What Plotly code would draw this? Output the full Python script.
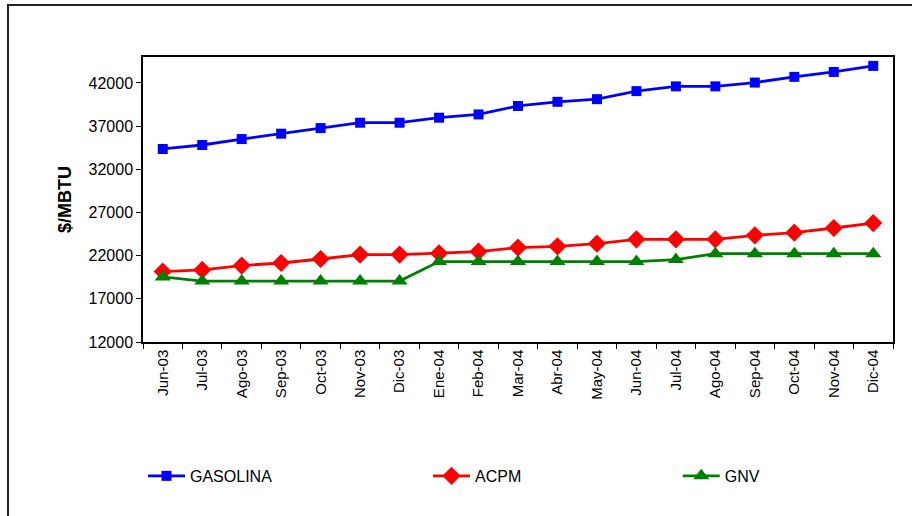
import plotly.graph_objects as go

# ── data ────────────────────────────────────────────────────────
meses = ["Jun-03", "Jul-03", "Ago-03", "Sep-03", "Oct-03", "Nov-03", "Dic-03",
         "Ene-04", "Feb-04", "Mar-04", "Abr-04", "May-04", "Jun-04", "Jul-04",
         "Ago-04", "Sep-04", "Oct-04", "Nov-04", "Dic-04"]
gasolina = [34350, 34810, 35500, 36120, 36770, 37390, 37390, 37970, 38350, 39330,
            39810, 40120, 41050, 41600, 41600, 42040, 42700, 43270, 43970]
acpm = [20150, 20350, 20850, 21150, 21610, 22120, 22120, 22270, 22470, 22930,
        23080, 23390, 23890, 23890, 23890, 24350, 24660, 25200, 25770]
gnv = [19540, 19060, 19060, 19060, 19060, 19060, 19060, 21310, 21310, 21310,
       21310, 21310, 21310, 21540, 22230, 22230, 22230, 22230, 22230]

FONT = "Liberation Sans, Arial, sans-serif"

fig = go.Figure()
series = [
    ("GASOLINA", gasolina, "#0000FF", "square", 10, "legend"),
    ("ACPM", acpm, "#FF0000", "diamond", 14, "legend2"),
    ("GNV", gnv, "#008000", "triangle-up", 14, "legend3"),
]
for name, vals, col, sym, size, leg in series:
    fig.add_trace(go.Scatter(
        x=meses, y=vals, name=name, mode="lines+markers",
        line=dict(color=col, width=2.8),
        marker=dict(symbol=sym, size=size, color=col),
        legend=leg,
    ))

leg_common = dict(orientation="h", yanchor="middle", y=-0.47, xanchor="left",
                  itemwidth=37,
                  font=dict(family=FONT, size=16, color="#000000"),
                  bgcolor="rgba(0,0,0,0)")

fig.update_layout(
    width=912, height=516, autosize=False,
    margin=dict(l=143, r=19, t=57, b=174, autoexpand=False),
    paper_bgcolor="white", plot_bgcolor="white",
    font=dict(family=FONT, size=15, color="#000000"),
    showlegend=True,
    legend=dict(leg_common, x=0.0),
    legend2=dict(leg_common, x=0.38),
    legend3=dict(leg_common, x=0.713),
    xaxis=dict(
        type="category", range=[-0.5, len(meses) - 0.5], tickangle=-90,
        showline=True, linecolor="#000000", linewidth=1.5, mirror=True,
        ticks="outside", ticklen=5, tickson="boundaries", tickcolor="#000000",
        showgrid=False, tickfont=dict(size=15), automargin=False,
    ),
    yaxis=dict(
        range=[12000, 45000], tick0=12000, dtick=5000, tickformat="d",
        showline=True, linecolor="#000000", linewidth=1.5, mirror=True,
        ticks="outside", ticklen=5, tickcolor="#000000", showgrid=False,
        zeroline=False, tickfont=dict(size=16), automargin=False,
        title=dict(text="<b>$/MBTU</b>", font=dict(size=18), standoff=12),
    ),
    shapes=[dict(
        type="rect", xref="paper", yref="paper",
        x0=(8 - 143) / 750, x1=(930 - 143) / 750,
        y0=(342 - 530) / 285, y1=(342 - 5) / 285,
        line=dict(color="#222222", width=2), fillcolor="rgba(0,0,0,0)",
        layer="below",
    )],
)

fig.write_html(
    "out.html",
    config={"responsive": False, "displayModeBar": False},
    post_script="document.body.style.margin='0';document.body.style.overflow='hidden';",
)
